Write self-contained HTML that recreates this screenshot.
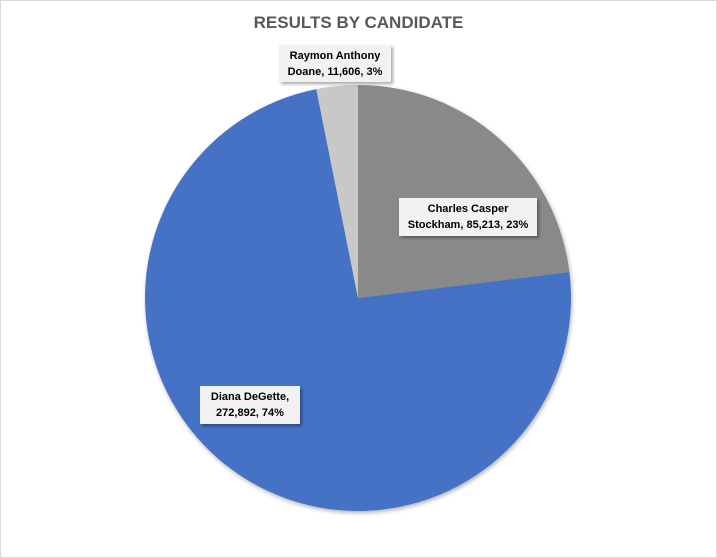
<!DOCTYPE html>
<html><head><meta charset="utf-8"><style>
html,body{margin:0;padding:0;background:#fff;}
#wrap{position:relative;width:717px;height:558px;overflow:hidden;font-family:"Liberation Sans",sans-serif;}
#frame{position:absolute;left:0;top:0;width:715px;height:556px;border:1px solid #d9d9d9;}
.lbl{position:absolute;background:#f2f2f2;box-shadow:2px 2px 3px rgba(0,0,0,0.35);font-weight:bold;font-size:11px;line-height:16px;color:#000;text-align:center;box-sizing:border-box;padding-top:3px;}
</style></head><body>
<div id="wrap">
<div id="frame"></div>
<div style="position:absolute;left:0;width:717px;top:13px;text-align:center;font-weight:bold;font-size:17px;color:#595959;">RESULTS BY CANDIDATE</div>
<svg id="pie" width="717" height="558" style="position:absolute;left:0;top:0">
<defs><filter id="sh" x="-10%" y="-10%" width="120%" height="120%"><feDropShadow dx="1" dy="2" stdDeviation="2" flood-opacity="0.3"/></filter></defs>
<g id="slices" filter="url(#sh)"></g>
</svg>
<div class="lbl" style="left:279px;top:45px;width:112px;height:37px;">Raymon Anthony<br>Doane, 11,606, 3%</div>
<div class="lbl" style="left:399px;top:198px;width:138px;height:38px;">Charles Casper<br>Stockham, 85,213, 23%</div>
<div class="lbl" style="left:200px;top:386px;width:100px;height:38px;">Diana DeGette,<br>272,892, 74%</div>
</div>
<script>
const categories=["Charles Casper Stockham","Diana DeGette","Raymon Anthony Doane"];
const values=[85213,272892,11606];
const colors=["#898989","#4472c4","#c8c8c8"];
const cx=358,cy=298,r=213;
const total=values.reduce((a,b)=>a+b,0);
const g=document.getElementById('slices');
let a0=0;
values.forEach((v,i)=>{
  const a1=a0+v/total*2*Math.PI;
  const x0=cx+r*Math.sin(a0),y0=cy-r*Math.cos(a0);
  const x1=cx+r*Math.sin(a1),y1=cy-r*Math.cos(a1);
  const large=(a1-a0)>Math.PI?1:0;
  const p=document.createElementNS('http://www.w3.org/2000/svg','path');
  p.setAttribute('d',`M${cx},${cy} L${x0},${y0} A${r},${r} 0 ${large} 1 ${x1},${y1} Z`);
  p.setAttribute('fill',colors[i]);
  
  
  g.appendChild(p);
  a0=a1;
});
</script>
</body></html>
